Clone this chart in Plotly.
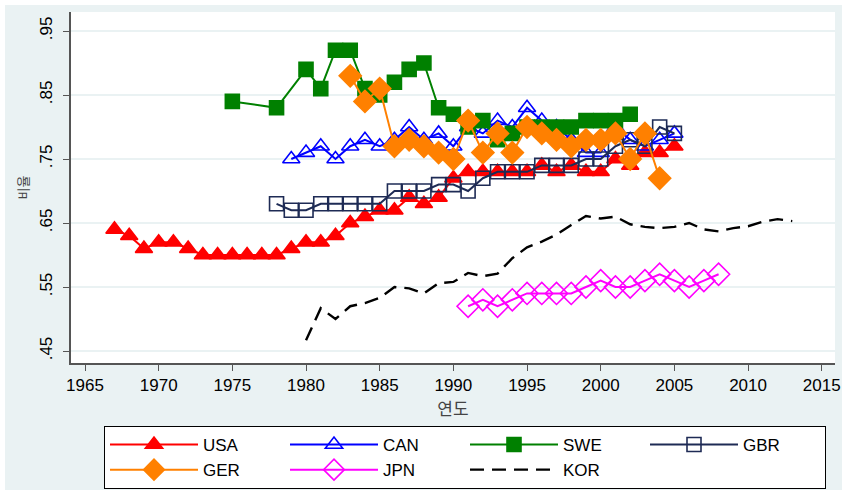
import plotly.graph_objects as go

# ---------------- data ----------------
usa_years = list(range(1967, 2006))
usa_vals = [.64, .63, .61, .62, .62, .61, .60, .60, .60, .60, .60, .60, .61, .62, .62, .63, .65,
            .66, .67, .67, .69, .68, .69, .72, .73, .73, .73, .73, .73, .74, .73, .74, .73, .73,
            .75, .74, .76, .76, .77]

can_years = list(range(1979, 2006))
can_vals = [.75, .76, .77, .75, .77, .78, .77, .78, .80, .78, .79, .77, .80, .79, .81, .80, .83,
            .81, .80, .78, .76, .76, .80, .78, .77, .78, .79]

swe_years = [1975, 1978] + list(range(1980, 2003))
swe_vals = [.84, .83, .89, .86, .92, .92, .86, .85, .87, .89, .90, .83, .82, .80, .81, .78, .79,
            .80, .80, .80, .80, .81, .81, .81, .82]

gbr_years = list(range(1978, 2006))
gbr_vals = [.68, .67, .67, .68, .68, .68, .68, .68, .70, .70, .70, .71, .71, .70, .72, .73, .73,
            .73, .74, .74, .74, .75, .75, .77, .78, .77, .80, .79]

ger_years = list(range(1983, 2005))
ger_vals = [.88, .84, .86, .77, .78, .77, .76, .75, .81, .76, .79, .76, .80, .79, .78, .77, .78,
            .78, .79, .75, .79, .72]

jpn_years = list(range(1991, 2009))
jpn_vals = [.52, .53, .52, .53, .54, .54, .54, .54, .55, .56, .55, .55, .56, .57, .56, .55, .56, .57]

kor_years = list(range(1980, 2014))
kor_vals = [.467, .517, .500, .520, .525, .533, .550, .548, .540, .556, .558, .572, .567, .571,
            .595, .612, .621, .632, .647, .661, .657, .660, .648, .644, .642, .644, .650, .640,
            .637, .642, .645, .652, .656, .653]

x_ticks = [1965, 1970, 1975, 1980, 1985, 1990, 1995, 2000, 2005, 2010, 2015]
y_ticks = [.45, .55, .65, .75, .85, .95]
y_ticktext = [".45", ".55", ".65", ".75", ".85", ".95"]

# ---------------- figure ----------------
W, H = 847, 494
L, R, T, B = 71, 12, 12, 131
pw, ph = W - L - R, H - T - B

fig = go.Figure()

def add(name, xs, ys, color, symbol, size, dash="solid", mode="lines+markers", lw=2, mlw=1.6):
    fig.add_trace(go.Scatter(
        x=xs, y=ys, name=name, mode=mode,
        line=dict(color=color, width=lw, dash=dash),
        marker=dict(symbol=symbol, size=size, color=color,
                    line=dict(color=color, width=mlw)) if "markers" in mode else None,
    ))

add("USA", usa_years, usa_vals, "#FF0000", "triangle-up", 15)
add("CAN", can_years, can_vals, "#0000FF", "triangle-up-open", 15)
add("SWE", swe_years, swe_vals, "#008000", "square", 14)
add("GBR", gbr_years, gbr_vals, "#1E2B55", "square-open", 14)
add("GER", ger_years, ger_vals, "#FF8000", "diamond", 17)
add("JPN", jpn_years, jpn_vals, "#FF00FF", "diamond-open", 17)
add("KOR", kor_years, kor_vals, "#000000", None, 0, dash="14px,8px", mode="lines", lw=2.4)

fig.update_layout(
    width=W, height=H,
    margin=dict(l=L, r=R, t=T, b=B, pad=0, autoexpand=False),
    paper_bgcolor="white",
    plot_bgcolor="white",
    font=dict(family="Liberation Sans, Arial, sans-serif", size=15, color="black"),
    showlegend=True,
    legend=dict(
        orientation="h",
        x=(104 - L) / pw, xanchor="left",
        y=(363 - 426) / ph, yanchor="top",
        bgcolor="white", bordercolor="black", borderwidth=1,
        font=dict(size=17, color="black"),
        entrywidth=77, entrywidthmode="pixels",
        itemwidth=88,
        tracegroupgap=0,
    ),
    shapes=[
        dict(type="rect", xref="paper", yref="paper", layer="below",
             x0=(5 - L) / pw, x1=(842 - L) / pw, y0=(363 - 490) / ph, y1=(363 - 5) / ph,
             fillcolor="#EAF2F3", line=dict(width=0)),
        dict(type="rect", xref="paper", yref="paper", layer="below",
             x0=0, x1=1, y0=0, y1=1, fillcolor="white", line=dict(width=0)),
    ],
)

fig.update_xaxes(
    range=[1964.05, 2015.9],
    tickvals=x_ticks, ticktext=[str(v) for v in x_ticks],
    ticks="outside", ticklen=6, tickcolor="#555555", tickwidth=1,
    showline=True, linecolor="#555555", linewidth=1.5,
    showgrid=False, zeroline=False,
    tickfont=dict(size=17, color="black"),
    title=dict(text="연도", font=dict(family="Noto Sans CJK KR", size=17, color="#444444"), standoff=2),
)

fig.update_yaxes(
    range=[0.4313, 0.9797],
    tickvals=y_ticks, ticktext=y_ticktext, tickangle=-90,
    ticks="outside", ticklen=6, tickcolor="#555555", tickwidth=1,
    ticklabelstandoff=4,
    showline=True, linecolor="#555555", linewidth=1.5,
    showgrid=True, gridcolor="#EAF2F3", gridwidth=1.5,
    zeroline=False,
    tickfont=dict(size=17, color="black"),
    title=dict(text="비율", font=dict(family="Noto Sans CJK KR", size=13, color="#444444"), standoff=6),
)

fig.write_html("out.html", config={"displayModeBar": False},
               post_script="document.body.style.margin='0px';")
